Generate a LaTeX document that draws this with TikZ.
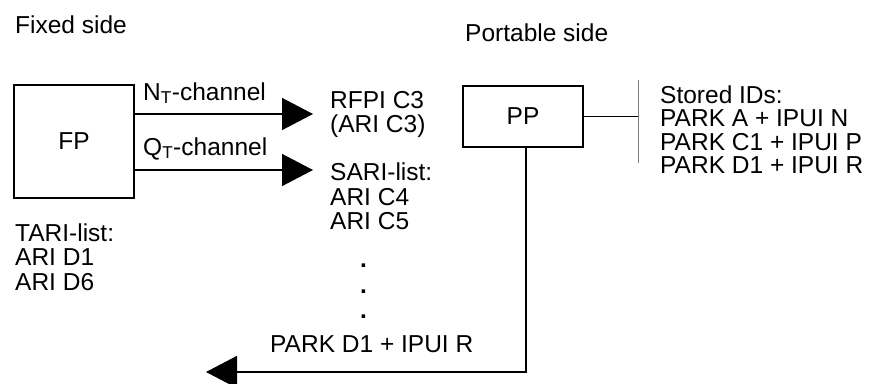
\documentclass[tikz,border=0pt]{standalone}
\usepackage{fontspec}
\setmainfont{Liberation Sans}
\usetikzlibrary{arrows.meta}

\tikzset{
  lbl/.style={anchor=base west, inner sep=0pt, font=\fontsize{24.5}{24}\selectfont},
  unitbox/.style={draw, line width=1.5pt, minimum width=120pt, inner sep=0pt,
                  font=\fontsize{24.5}{24}\selectfont},
  chan/.style={line width=1.5pt, -{Triangle[length=31pt,width=32pt]}}
}

\begin{document}
\begin{tikzpicture}[x=1pt, y=-1pt]
  \useasboundingbox (0,0) rectangle (880,383);
  \node[lbl] (fixed) at (15,33) {Fixed side};
  \node[lbl] (portable) at (465,41) {Portable side};

  \node[unitbox, minimum height=113pt] (fp) at (74,141.5) {FP};
  \node[unitbox, minimum height=61pt] (pp) at (523,116.5) {PP};

  \coordinate (ntip) at (313,114);
  \coordinate (qtip) at (313,170);
  \draw[chan] (fp.east |- ntip) -- (ntip);
  \draw[chan] (fp.east |- qtip) -- (qtip);
  \node[lbl] (nlabel) at (143,100) {N\textsubscript{T}-channel};
  \node[lbl] (qlabel) at (143,155) {Q\textsubscript{T}-channel};

  \foreach \txt/\y [count=\i] in {RFPI C3/108, {(ARI C3)}/132, SARI-list:/180, ARI C4/205, ARI C5/229}
    \node[lbl] (fixid\i) at (330,\y) {\txt};
  \foreach \y [count=\i] in {267,293,318}
    \node[lbl] (dot\i) at (360,\y) {\textbf{.}};
  \node[lbl] (sent) at (270,352) {PARK D1 + IPUI R};

  \foreach \txt/\y [count=\i] in {TARI-list:/241, ARI D1/265.5, ARI D6/290}
    \node[lbl] (tari\i) at (15,\y) {\txt};

  \coordinate (bartop) at (638,80);
  \coordinate (barbot) at (638,163);
  \draw[gray, line width=1pt] (bartop) -- (barbot);
  \draw[line width=0.8pt] (pp.east) -- (pp.east -| bartop);
  \foreach \txt [count=\i from 0] in {Stored IDs:, PARK A + IPUI N, PARK C1 + IPUI P, PARK D1 + IPUI R}
    \node[lbl] (stored\i) at (660,{103+23.5*\i}) {\txt};

  \coordinate (ltip) at (206,372);
  \draw[chan] ([xshift=3pt]pp.south) |- (ltip);
\end{tikzpicture}
\end{document}
